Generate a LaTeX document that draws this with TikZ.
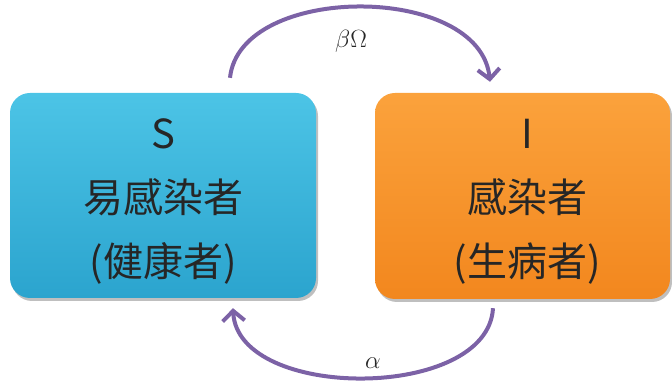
\documentclass[tikz,border=0pt]{standalone}
\usepackage{fontspec}
\newfontfamily\cjk{Noto Sans CJK TC}
\usetikzlibrary{arrows.meta,shadows,calc}
\definecolor{bluetop}{HTML}{4CC4E6}
\definecolor{bluebot}{HTML}{2BA4CE}
\definecolor{orgtop}{HTML}{FBA23C}
\definecolor{orgbot}{HTML}{F2871E}
\definecolor{arcpurple}{HTML}{7C62A6}
\tikzset{
  statebox/.style={rounded corners=20pt, inner sep=0pt,
    drop shadow={shadow xshift=2pt, shadow yshift=-3pt, opacity=0.25, fill=black}},
  boxtext/.style={align=center, inner sep=0pt,
    font=\cjk\fontsize{40}{64}\selectfont, text=black!85},
  flow/.style={draw=arcpurple, line width=4pt,
    -{Straight Barb[length=10pt,width=22pt,line width=4pt]}},
  rate/.style={font=\fontsize{26}{30}\selectfont, text=black!85}
}
\begin{document}
\begin{tikzpicture}[x=1pt,y=1pt]
\useasboundingbox (0,0) rectangle (672,383);
\node[statebox, minimum width=306pt, minimum height=205pt,
      top color=bluetop, bottom color=bluebot] (S) at (163,187.5) {};
\node[statebox, minimum width=295pt, minimum height=206pt,
      top color=orgtop, bottom color=orgbot] (I) at (522.5,187) {};
\node[boxtext] (Stext) at ($(S.center)+(0,-6)$) {S\\易感染者\\(健康者)};
\node[boxtext] (Itext) at ($(I.center)+(5,-6)$) {I\\感染者\\(生病者)};
\coordinate (t1) at ($(S.north)+(67,15)$);
\coordinate (t2) at ($(I.north)+(-32.5,11)$);
\coordinate (b1) at ($(I.south)+(-29.5,-9)$);
\coordinate (b2) at ($(S.south)+(70,-10)$);
\draw[flow] (t1) .. controls ($(t1)+(10,95)$) and ($(t2)+(-10,99)$) .. (t2);
\draw[flow] (b1) .. controls ($(b1)+(-5,-93)$) and ($(b2)+(5,-93)$) .. (b2);
\node[rate] (beta) at (351,342) {$\beta\Omega$};
\node[rate] (alpha) at (373,20) {$\alpha$};
\end{tikzpicture}
\end{document}
